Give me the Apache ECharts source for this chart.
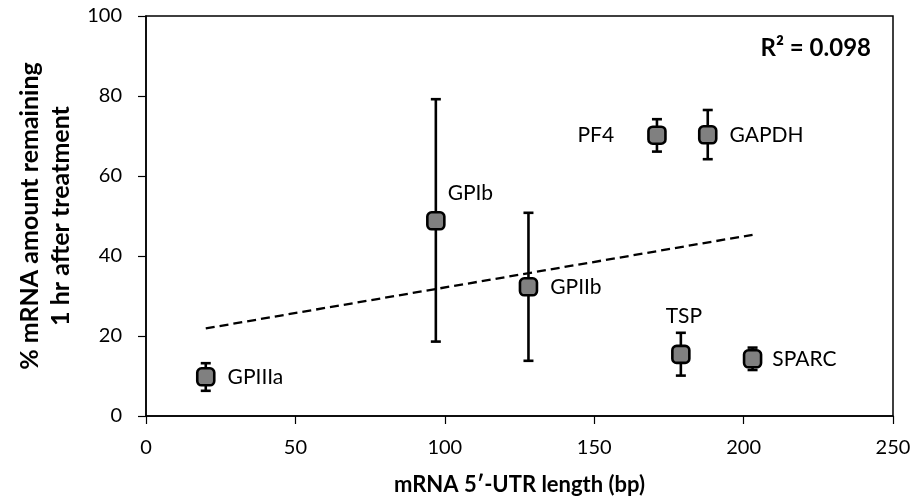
<!DOCTYPE html>
<html lang="en">
<head>
    <meta charset="UTF-8">
    <title>mRNA 5'-UTR length vs remaining mRNA</title>
    <script src="https://cdn.jsdelivr.net/npm/echarts@6/dist/echarts.min.js"></script>
    <style>
        html, body { margin: 0; padding: 0; background: #fff; }
        #chart { width: 915px; height: 502px; }
    </style>
</head>
<body>
    <div id="chart"></div>
    <script type="text/javascript">
    // values
    var genes = ['GPIIIa', 'GPIb', 'GPIIb', 'PF4', 'GAPDH', 'TSP', 'SPARC'];
    var utrLength = [20, 97, 128, 171, 188, 179, 203];
    var pctRemaining = [9.8, 48.8, 32.3, 70.2, 70.3, 15.4, 14.3];
    var errUp = [3.4, 30.4, 18.5, 4.0, 6.2, 5.4, 2.8];
    var errDown = [3.5, 30.2, 18.5, 4.1, 6.1, 5.3, 2.8];
    // linear trendline ends
    var trendX = [20, 203];
    var trendY = [21.9, 45.3];
    var r2Text = 'R² = 0.098';

    var FONT = 'Lato';

    // where each gene label sits
    var labelPos = {
        GPIIIa: { position: 'right', distance: 12 },
        GPIb: { position: 'right', distance: 2, offset: [0, -28] },
        GPIIb: { position: 'right', distance: 12 },
        PF4: { position: 'left', distance: 33 },
        GAPDH: { position: 'right', distance: 12 },
        TSP: { position: 'top', distance: 18, offset: [3, 0] },
        SPARC: { position: 'right', distance: 10 }
    };

    var points = [], bars = [];
    for (var i = 0; i < genes.length; i++) {
        var lp = labelPos[genes[i]];
        points.push({
            name: genes[i],
            value: [utrLength[i], pctRemaining[i]],
            label: {
                show: true,
                formatter: genes[i],
                position: lp.position,
                distance: lp.distance,
                offset: lp.offset || [0, 0]
            }
        });
        bars.push([utrLength[i], pctRemaining[i] - errDown[i], pctRemaining[i] + errUp[i]]);
    }
    var trend = [];
    for (var j = 0; j < trendX.length; j++) trend.push([trendX[j], trendY[j]]);

    var chart = echarts.init(document.getElementById('chart'));
    chart.setOption({
        animation: false,
        textStyle: { fontFamily: FONT },
        grid: {
            left: 146, right: 22, top: 16, bottom: 86,
            show: true, borderColor: '#000', borderWidth: 1.5
        },
        xAxis: {
            type: 'value', min: 0, max: 250, interval: 50,
            name: "mRNA 5\u2032-UTR length (bp)",
            nameLocation: 'middle', nameGap: 58,
            nameTextStyle: { fontFamily: FONT, fontWeight: 'bold', fontSize: 22, color: '#000' },
            axisLine: { lineStyle: { color: '#000', width: 1.5 } },
            axisTick: { show: true, length: 8, lineStyle: { color: '#000', width: 1.2 } },
            axisLabel: { fontFamily: FONT, fontSize: 20, color: '#000', margin: 22 },
            splitLine: { show: false }
        },
        yAxis: {
            type: 'value', min: 0, max: 100, interval: 20,
            name: '% mRNA amount remaining\n1 hr after treatment',
            nameLocation: 'middle', nameGap: 70, nameRotate: 90,
            nameTextStyle: { fontFamily: FONT, fontWeight: 'bold', fontSize: 25, color: '#000', lineHeight: 31 },
            axisLine: { lineStyle: { color: '#000', width: 1.5 } },
            axisTick: { show: true, length: 8, lineStyle: { color: '#000', width: 1.2 } },
            axisLabel: { fontFamily: FONT, fontSize: 20, color: '#000', margin: 24 },
            splitLine: { show: false }
        },
        graphic: [{
            type: 'text', right: 44, top: 36, z: 10,
            style: { text: r2Text, font: 'bold 24px ' + FONT, fill: '#000' }
        }],
        series: [{
            type: 'line',
            data: trend,
            symbol: 'none',
            lineStyle: { color: '#000', width: 2.3, type: [9, 5] },
            z: 1
        }, {
            type: 'custom',
            data: bars,
            z: 2,
            renderItem: function (params, api) {
                var lo = api.coord([api.value(0), api.value(1)]);
                var hi = api.coord([api.value(0), api.value(2)]);
                var w = 5;
                var st = { stroke: '#000', lineWidth: 2.6, fill: null };
                return {
                    type: 'group',
                    children: [
                        { type: 'line', shape: { x1: lo[0], y1: lo[1], x2: hi[0], y2: hi[1] }, style: st },
                        { type: 'line', shape: { x1: lo[0] - w, y1: lo[1], x2: lo[0] + w, y2: lo[1] }, style: st },
                        { type: 'line', shape: { x1: hi[0] - w, y1: hi[1], x2: hi[0] + w, y2: hi[1] }, style: st }
                    ]
                };
            }
        }, {
            type: 'scatter',
            data: points,
            symbol: 'roundRect',
            symbolSize: 17,
            z: 3,
            itemStyle: { color: '#808080', borderColor: '#000', borderWidth: 2.6, opacity: 1 },
            label: { fontFamily: FONT, fontSize: 21, color: '#000' },
            emphasis: { disabled: true }
        }]
    });
    </script>
</body>
</html>
